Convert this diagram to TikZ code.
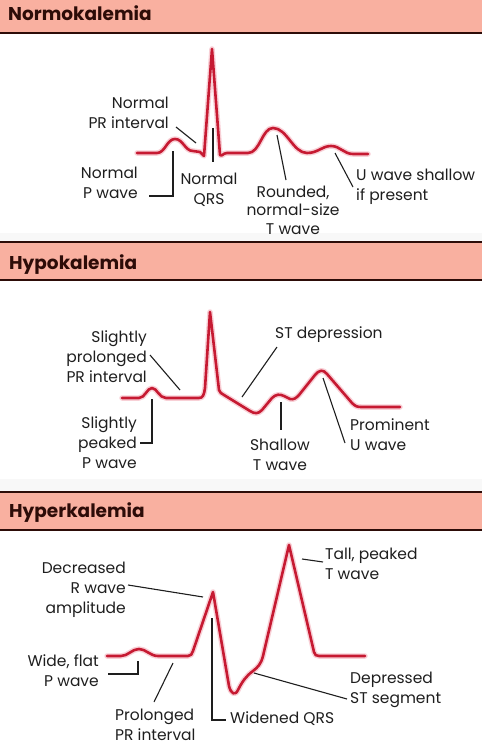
\documentclass[tikz,border=0pt]{standalone}
\usepackage{fontspec}
\setmainfont{Poppins}
\definecolor{hdr}{RGB}{249,176,160}
\definecolor{hdrline}{RGB}{45,12,8}
\definecolor{ecg}{RGB}{198,26,50}
\definecolor{glow}{RGB}{240,150,165}
\definecolor{lbl}{RGB}{30,30,30}
\definecolor{band}{RGB}{248,248,248}
\tikzset{
 lab/.style={inner sep=0pt, text=lbl, font=\fontsize{15.5}{20}\selectfont},
 hdrtext/.style={inner sep=0pt, anchor=base west, text=hdrline, font=\fontsize{18.5}{20}\selectfont\bfseries},
 lead/.style={draw=lbl, line width=1.1pt},
 trace/.style={preaction={draw=glow, line width=5.5pt, opacity=0.45, line join=round, line cap=round}, draw=ecg, line width=2.6pt, line join=round, line cap=round},
 bar/.style={fill=hdr, draw=none},
 barline/.style={draw=hdrline, line width=2pt}
}
\begin{document}
\begin{tikzpicture}[x=1pt,y=-1pt]
\useasboundingbox (0,0) rectangle (482,749);
% light bands
\fill[band] (0,233) rectangle (482,241);
\fill[band] (0,479) rectangle (482,491);
% headers
\fill[bar] (0,0) rectangle (482,32);
\draw[barline] (0,33) -- (482,33);
\node[hdrtext] (h1) at (8,21) {Normokalemia};
\fill[bar] (0,242) rectangle (482,280);
\draw[barline] (0,242) -- (482,242);
\draw[barline] (0,280) -- (482,280);
\node[hdrtext] (h2) at (9,269) {Hypokalemia};
\fill[bar] (0,492) rectangle (482,529.5);
\draw[barline] (0,492) -- (482,492);
\draw[barline] (0,529.5) -- (482,529.5);
\node[hdrtext] (h3) at (9,517) {Hyperkalemia};

% ---------------- Normokalemia ----------------
\draw[trace] (137,153) -- (157,153)
 .. controls (165,153) and (167,139) .. (175,139)
 .. controls (183,139) and (185,151) .. (193,151)
 -- (200,152) -- (204,156) -- (212,49) -- (220,155)
 .. controls (222,157) and (223,153) .. (227,153)
 -- (248,153)
 .. controls (260,153) and (262,128) .. (273,128)
 .. controls (287,128) and (293,153) .. (307,153)
 .. controls (318,153) and (322,146) .. (331,146)
 .. controls (340,146) and (344,154) .. (353,154)
 -- (368,154);

\node[lab, align=right, anchor=east] (nPR) at (169,113) {Normal\\PR interval};
\node[lab, align=right, anchor=east] (nP) at (138,183) {Normal\\P wave};
\node[lab, align=center] (nQRS) at (209,190) {Normal\\QRS};
\node[lab, align=center, font=\fontsize{15.5}{18.5}\selectfont] (nT) at (293,210) {Rounded,\\normal-size\\T wave};
\node[lab, align=left, anchor=west] (nU) at (356,187) {U wave shallow\\if present};

\coordinate (nPRa) at (176,127); \coordinate (nPRb) at (196,143);
\coordinate (nPa) at (149,196); \coordinate (nPc) at (173,196); \coordinate (nPb) at (173,151);
\coordinate (nQa) at (213,128); \coordinate (nQb) at (213,162);
\coordinate (nTa) at (277,135); \coordinate (nTb) at (286,180);
\coordinate (nUa) at (335,153); \coordinate (nUb) at (353,187);
\draw[lead] (nPRa) -- (nPRb);
\draw[lead] (nPa) -- (nPc) -- (nPb);
\draw[lead] (nQa) -- (nQb);
\draw[lead] (nTa) -- (nTb);
\draw[lead] (nUa) -- (nUb);

% ---------------- Hypokalemia ----------------
\draw[trace] (122,398) -- (139,398)
 .. controls (145,398) and (147,388) .. (152,388)
 .. controls (157,388) and (159,398) .. (166,398)
 -- (199,398) .. controls (203,398) and (204,395) .. (205,388)
 -- (210,312) -- (219,390)
 .. controls (220,393) and (221,393) .. (224,395)
 -- (250,411) .. controls (255,414) and (258,414) .. (262,410)
 -- (272,398) .. controls (276,394) and (280,394) .. (284,396)
 -- (290,399) .. controls (294,400) and (296,398) .. (299,395)
 -- (315,375) .. controls (319,370) and (323,369) .. (327,374)
 -- (352,403) .. controls (355,406) and (357,407) .. (361,407)
 -- (400,407);

\node[lab, align=right, anchor=east] (oPR) at (147,357) {Slightly\\prolonged\\PR interval};
\node[lab, align=right, anchor=east] (oP) at (137,443) {Slightly\\peaked\\P wave};
\node[lab, anchor=west] (oST) at (275,335) {ST depression};
\node[lab, align=center] (oT) at (280,455) {Shallow\\T wave};
\node[lab, align=left, anchor=west] (oU) at (350,435) {Prominent\\U wave};

\coordinate (oPRa) at (150,355); \coordinate (oPRb) at (180,390);
\coordinate (oPa) at (140,443); \coordinate (oPc) at (152,443); \coordinate (oPb) at (152,399);
\coordinate (oSTa) at (277,347); \coordinate (oSTb) at (242,397);
\coordinate (oTa) at (281,402); \coordinate (oTb) at (281,430);
\coordinate (oUa) at (323,378); \coordinate (oUb) at (345,443);
\draw[lead] (oPRa) -- (oPRb);
\draw[lead] (oPa) -- (oPc) -- (oPb);
\draw[lead] (oSTa) -- (oSTb);
\draw[lead] (oTa) -- (oTb);
\draw[lead] (oUa) -- (oUb);

% ---------------- Hyperkalemia ----------------
\draw[trace] (107,656) -- (121,656)
 .. controls (128,656) and (132,649) .. (139,649)
 .. controls (146,649) and (150,656) .. (158,656)
 -- (188,656) .. controls (191,656) and (192,654) .. (193,651)
 -- (213,592) -- (229,686)
 .. controls (231,694) and (235,696) .. (238,690)
 .. controls (242,682) and (246,676) .. (253,671)
 .. controls (258,667) and (261,664) .. (263,656)
 -- (289,545) -- (314,652)
 .. controls (315,655) and (316,656) .. (319,656)
 -- (365,656);

\node[lab, align=right, anchor=east] (rR) at (126,590) {Decreased\\R wave\\amplitude};
\node[lab, align=left, anchor=west] (rT) at (325,564) {Tall, peaked\\T wave};
\node[lab, align=right, anchor=east] (rP) at (99,671) {Wide, flat\\P wave};
\node[lab, align=left, anchor=west] (rPR) at (115,725) {Prolonged\\PR interval};
\node[lab, anchor=west] (rQRS) at (230,719) {Widened QRS};
\node[lab, align=left, anchor=west] (rST) at (350,690) {Depressed\\ST segment};

\coordinate (rRa) at (128,585); \coordinate (rRb) at (203,597);
\coordinate (rTa) at (302,559); \coordinate (rTb) at (323,562);
\coordinate (rPa) at (108,674); \coordinate (rPc) at (138,674); \coordinate (rPb) at (138,661);
\coordinate (rPRa) at (173,663); \coordinate (rPRb) at (154,702);
\coordinate (rQa) at (212,618); \coordinate (rQc) at (212,720); \coordinate (rQb) at (226,720);
\coordinate (rSTa) at (254,673); \coordinate (rSTb) at (347,699);
\draw[lead] (rRa) -- (rRb);
\draw[lead] (rTa) -- (rTb);
\draw[lead] (rPa) -- (rPc) -- (rPb);
\draw[lead] (rPRa) -- (rPRb);
\draw[lead] (rQa) -- (rQc) -- (rQb);
\draw[lead] (rSTa) -- (rSTb);
\end{tikzpicture}
\end{document}
